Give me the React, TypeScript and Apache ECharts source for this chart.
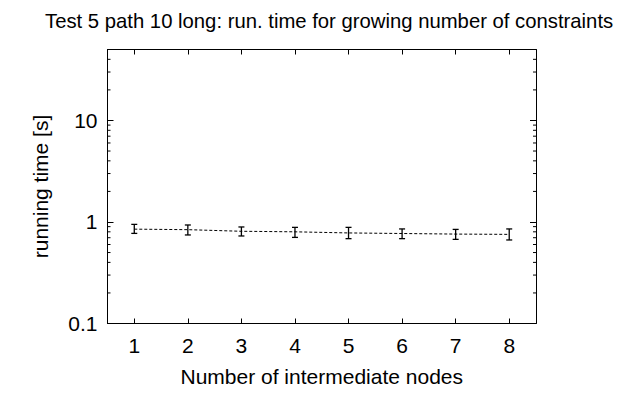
import React, { useEffect, useRef } from "react";
import * as echarts from "echarts";

const categories = ["1", "2", "3", "4", "5", "6", "7", "8"];
const meanTimes = [0.85, 0.84, 0.81, 0.8, 0.78, 0.77, 0.76, 0.755];
const lowTimes = [0.772, 0.745, 0.728, 0.705, 0.685, 0.685, 0.674, 0.665];
const highTimes = [0.947, 0.934, 0.893, 0.885, 0.885, 0.854, 0.845, 0.854];
const minorTickValues = [0.2, 0.3, 0.4, 0.5, 0.6, 0.7, 0.8, 0.9, 2, 3, 4, 5, 6, 7, 8, 9, 20, 30, 40];

const FONT = "Liberation Sans";

export default function App() {
  const ref = useRef<HTMLDivElement>(null);
  useEffect(() => {
    if (!ref.current) return;
    const chart = echarts.init(ref.current, undefined, { renderer: "svg" });
    const logLabel = (v: number) => {
      const l = Math.log10(v);
      const r = Math.round(l);
      if (Math.abs(l - r) > 0.01) return "";
      return String(Number(Math.pow(10, r).toPrecision(3)));
    };
    const yCommon = {
      type: "log" as const,
      logBase: 10,
      min: 0.1,
      max: 50,
      axisLine: { show: true, lineStyle: { color: "#000", width: 1 } },
      axisTick: { show: true, inside: true, length: 6, lineStyle: { color: "#000" } },
      splitLine: { show: false },
    };
    const xCommon = {
      type: "category" as const,
      data: categories,
      boundaryGap: true,
      axisLine: { show: true, onZero: false, lineStyle: { color: "#000", width: 1 } },
      axisTick: { show: true, inside: true, alignWithLabel: true, length: 5, lineStyle: { color: "#000" } },
      splitLine: { show: false },
    };
    chart.setOption({
      animation: false,
      backgroundColor: "#fff",
      textStyle: { fontFamily: FONT },
      title: {
        text: "Test 5 path 10 long: run. time for growing number of constraints",
        left: 40,
        top: 6,
        textStyle: { fontFamily: FONT, fontSize: 20.3, fontWeight: "normal", color: "#000" },
      },
      grid: { left: 107.5, right: 93, top: 49.5, bottom: 69.5, containLabel: false },
      xAxis: [
        {
          ...xCommon,
          position: "bottom",
          name: "Number of intermediate nodes",
          nameLocation: "middle",
          nameGap: 42,
          nameTextStyle: { fontFamily: FONT, fontSize: 21, color: "#000" },
          axisLabel: { fontFamily: FONT, fontSize: 21, color: "#000", margin: 11 },
        },
        { ...xCommon, position: "top", axisLabel: { show: false } },
      ],
      yAxis: [
        {
          ...yCommon,
          position: "left",
          name: "running time [s]",
          nameLocation: "middle",
          nameGap: 57,
          nameTextStyle: { fontFamily: FONT, fontSize: 21, color: "#000" },
          axisLabel: { fontFamily: FONT, fontSize: 21, color: "#000", margin: 10, formatter: logLabel, showMaxLabel: false },
        },
        { ...yCommon, position: "right", axisLabel: { show: false } },
      ],
      series: [
        {
          type: "line",
          data: meanTimes,
          symbol: "none",
          lineStyle: { color: "#000", width: 1, type: [3, 2] },
          z: 2,
        },
        {
          type: "custom",
          data: categories.map((c, i) => [i, lowTimes[i], highTimes[i]]),
          renderItem: (params: any, api: any) => {
            const x = api.value(0);
            const lo = api.coord([x, api.value(1)]);
            const hi = api.coord([x, api.value(2)]);
            const w = 3;
            const style = { stroke: "#000", lineWidth: 1.3 };
            return {
              type: "group",
              children: [
                { type: "line", shape: { x1: lo[0], y1: lo[1], x2: hi[0], y2: hi[1] }, style },
                { type: "line", shape: { x1: lo[0] - w, y1: lo[1], x2: lo[0] + w, y2: lo[1] }, style },
                { type: "line", shape: { x1: hi[0] - w, y1: hi[1], x2: hi[0] + w, y2: hi[1] }, style },
              ],
            };
          },
          z: 3,
        },
        {
          type: "custom",
          data: minorTickValues.map((v) => [0, v]),
          renderItem: (params: any, api: any) => {
            const cs = params.coordSys;
            const p = api.coord([0, api.value(1)]);
            const y = p[1];
            const style = { stroke: "#000", lineWidth: 1 };
            return {
              type: "group",
              children: [
                { type: "line", shape: { x1: cs.x, y1: y, x2: cs.x + 3, y2: y }, style },
                { type: "line", shape: { x1: cs.x + cs.width - 3, y1: y, x2: cs.x + cs.width, y2: y }, style },
              ],
            };
          },
          silent: true,
          z: 1,
        },
      ],
    });
    return () => chart.dispose();
  }, []);
  return <div ref={ref} style={{ width: 629, height: 393, position: "absolute", left: 0, top: 0 }} />;
}
